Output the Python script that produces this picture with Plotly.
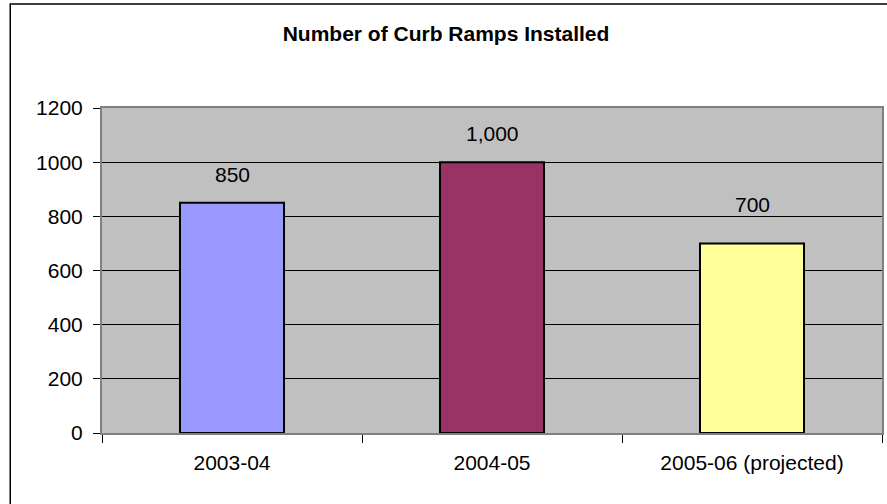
import plotly.graph_objects as go

# Curb ramps installed per fiscal year
years = ["2003-04", "2004-05", "2005-06 (projected)"]
ramps = [850, 1000, 700]
bar_colors = ["#9999FF", "#993366", "#FFFF99"]
y_ticks = [0, 200, 400, 600, 800, 1000, 1200]

# vertical gap (px) between each bar top and its value label
label_lift = [15, 15, 25]

W, H = 887, 504
ML, MR, MT, MB = 102, 3, 108, 71
pw, ph = W - ML - MR, H - MT - MB
FONT = "Liberation Sans, Arial"

fig = go.Figure(
    go.Bar(
        x=years,
        y=ramps,
        marker=dict(color=bar_colors, line=dict(color="black", width=2)),
        width=0.4,
        hoverinfo="x+y",
    )
)

# value labels above each bar
for yr, v, lift in zip(years, ramps, label_lift):
    fig.add_annotation(
        x=yr, y=v, text=f"{v:,}", showarrow=False,
        yanchor="bottom", yshift=lift,
        font=dict(family=FONT, size=21, color="black"),
    )

# outer chart frame (runs past the right and bottom edges)
fig.add_shape(
    type="rect", xref="paper", yref="paper",
    x0=(10 - ML) / pw, x1=(W + 20 - ML) / pw,
    y0=-(MB + 20) / ph, y1=1 + (MT - 4) / ph,
    line=dict(color="black", width=1.5), fillcolor="rgba(0,0,0,0)",
    layer="above",
)

fig.update_layout(
    width=W, height=H,
    margin=dict(l=ML, r=MR, t=MT, b=MB, pad=0),
    paper_bgcolor="white",
    plot_bgcolor="#C0C0C0",
    showlegend=False,
    font=dict(family=FONT, size=21, color="black"),
    title=dict(
        text="<b>Number of Curb Ramps Installed</b>",
        x=(446 / W), xref="container", xanchor="center",
        y=1 - 34 / H, yref="container", yanchor="middle",
        font=dict(family=FONT, size=21, color="black"),
    ),
    xaxis=dict(
        type="category",
        tickson="boundaries",
        ticks="outside", ticklen=8, tickcolor="black", tickwidth=1,
        showline=True, linecolor="#808080", linewidth=2, mirror=True,
        showgrid=False,
        ticklabelstandoff=10,
    ),
    yaxis=dict(
        range=[0, 1200],
        tickvals=y_ticks,
        tickformat="d",
        ticks="outside", ticklen=7, tickcolor="black", tickwidth=1,
        showline=True, linecolor="#808080", linewidth=2, mirror=True,
        showgrid=True, gridcolor="black", gridwidth=1,
        zeroline=False,
        ticklabelstandoff=6,
    ),
)

fig.write_html("out.html")
